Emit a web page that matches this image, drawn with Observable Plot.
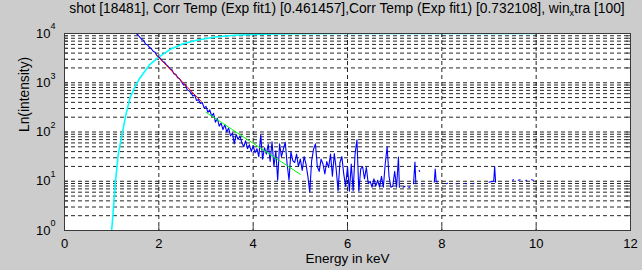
<!DOCTYPE html>
<html>
<head>
<meta charset="utf-8">
<script src="https://cdn.jsdelivr.net/npm/d3@7"></script>
<script src="https://cdn.jsdelivr.net/npm/@observablehq/plot@0.6"></script>
<style>
  body { margin: 0; background: #cccccc; width: 642px; height: 270px; overflow: hidden; }
  #title { height: 20px; box-sizing: border-box; padding: 1px 12px 0 64px; text-align: center;
           font: 13.8px "Liberation Sans", Arial, sans-serif; color: #000; white-space: nowrap; line-height: 16px; }
  #title sub { font-size: 9px; vertical-align: -3px; line-height: 0; }
</style>
</head>
<body>
<div id="title">shot [18481], Corr Temp (Exp fit1) [0.461457],Corr Temp (Exp fit1) [0.732108], win<sub>x</sub>tra [100]</div>
<div id="chart"></div>
<script>
// ---- data ----
const xTicks = [0, 2, 4, 6, 8, 10, 12];
const yDecades = [0, 1, 2, 3, 4];          // exponents of the y tick labels 10^n
const xLabel = "Energy in keV";
const yLabel = "Ln(intensity)";

// cyan curve: [energy keV, intensity]
const cyanCurve = [
  [1.00, 1], [1.04, 3], [1.08, 10], [1.14, 35], [1.21, 80], [1.30, 220], [1.39, 500],
  [1.50, 850], [1.60, 1250], [1.80, 2300], [2.00, 3300], [2.25, 4800], [2.50, 6100],
  [2.80, 7300], [3.20, 8500], [3.60, 9200], [4.00, 9550], [4.50, 9800], [5.00, 9900],
  [6.00, 9970], [7.00, 9990], [8.00, 10000], [10.00, 10000]
];

// blue measured spectrum: [energy keV, log10(intensity)], null = gap (no counts)
const blueSpectrum = [
  [1.52,4.00],[1.56,3.97],[1.60,3.92],[1.64,3.88],[1.68,3.86],[1.72,3.78],[1.76,3.77],[1.80,3.72],
  [1.84,3.69],[1.88,3.64],[1.92,3.62],[1.96,3.55],[2.00,3.52],[2.04,3.49],[2.08,3.43],[2.12,3.42],
  [2.16,3.36],[2.20,3.33],[2.24,3.28],[2.28,3.26],[2.32,3.18],[2.36,3.17],[2.40,3.10],[2.44,3.08],
  [2.48,3.02],[2.52,2.96],[2.56,2.97],[2.60,2.86],[2.64,2.84],[2.68,2.80],[2.72,2.73],[2.76,2.75],
  [2.80,2.64],[2.84,2.66],[2.88,2.58],[2.92,2.60],[2.96,2.49],[3.00,2.52],[3.04,2.40],[3.08,2.45],
  [3.12,2.32],[3.16,2.38],[3.20,2.20],[3.24,2.28],[3.28,2.12],[3.32,2.18],[3.36,2.05],[3.40,2.15],
  [3.44,2.00],[3.48,2.08],[3.52,1.92],[3.56,1.98],[3.60,1.76],[3.64,1.95],[3.68,1.85],[3.72,1.92],
  [3.76,1.78],[3.80,1.70],[3.84,1.82],[3.88,1.66],[3.92,1.74],[3.96,1.60],[4.00,1.72],[4.04,1.58],
  [4.08,1.66],[4.12,1.50],[4.16,1.94],[4.20,1.45],[4.24,1.68],[4.28,1.55],[4.32,1.75],[4.36,1.40],
  [4.40,1.80],[4.44,1.30],[4.48,1.62],[4.52,1.02],[4.56,1.76],[4.60,1.50],[4.64,1.65],[4.68,1.79],
  [4.72,1.35],[4.76,1.02],[4.80,1.60],[4.84,1.42],[4.88,1.38],[4.92,1.55],[4.96,1.30],[5.00,1.45],
  [5.04,1.22],[5.08,1.50],[5.12,1.35],[5.16,1.10],[5.20,0.78],[5.24,1.42],[5.28,1.65],[5.32,1.76],
  [5.36,1.30],[5.40,1.20],[5.44,1.45],[5.48,1.35],[5.52,1.15],[5.56,1.40],[5.60,1.28],[5.64,1.55],
  [5.68,1.10],[5.72,1.56],[5.76,1.25],[5.80,0.81],[5.84,1.38],[5.88,1.50],[5.92,1.15],[5.96,0.90],
  [6.00,1.30],[6.04,0.80],[6.08,1.35],[6.12,0.81],[6.16,1.55],[6.20,1.84],[6.24,0.80],[6.28,1.25],
  [6.32,1.30],[6.36,1.05],[6.40,1.28],[6.44,0.95],[6.48,1.00],[6.52,0.88],[6.56,1.05],[6.60,0.90],
  [6.64,1.02],[6.68,0.88],[6.72,1.10],[6.76,0.88],[6.80,1.35],[6.84,1.70],[6.88,1.10],[6.92,0.88],
  [6.96,0.90],[7.00,1.20],[7.04,0.88],[7.08,1.49],[7.10,0.88],[7.14,null],
  [7.18,0.88],[7.22,0.90],[7.26,null],[7.30,0.88],[7.32,0.88],[7.34,null],
  [7.40,0.95],[7.43,1.39],[7.45,0.95],[7.48,null],[7.52,1.22],[7.53,1.20],[7.55,null],
  [7.57,0.95],[7.59,0.95],[7.70,null],[7.84,0.98],[7.86,1.25],[7.88,1.00],[7.90,0.98],[7.95,null],
  [8.10,0.95],[8.12,0.96],[8.20,null],[8.30,0.95],[8.32,0.95],[8.40,null],[8.50,0.96],[8.52,0.95],
  [8.60,null],[8.66,0.95],[8.68,0.96],[8.80,null],[9.00,0.98],[9.04,0.99],[9.10,1.00],[9.12,1.30],
  [9.14,0.98],[9.30,null],[9.50,1.02],[9.52,1.03],[9.56,null],[9.62,1.02],[9.66,1.03],[9.70,null],
  [9.78,1.01],[9.80,1.02],[9.85,null],[9.90,1.03],[9.94,1.02]
];

// fitted lines: [energy keV, log10(intensity)]
const redFit = [[1.95, 3.56], [2.90, 2.62]];
const greenFit = [[3.00, 2.40], [5.00, 1.14]];

// ---- build ----
const toPts = arr => arr.map(([x, l]) => ({x, y: l == null ? NaN : Math.pow(10, l)}));
const cyan = cyanCurve.map(([x, y]) => ({x, y}));
const blue = toPts(blueSpectrum);
const red = toPts(redFit);
const green = toPts(greenFit);

const gridY = [];
for (const d of yDecades.slice(0, -1)) for (let k = 1; k <= 9; k++) gridY.push(k * Math.pow(10, d));
const gridX = xTicks.slice(1, -1);
const decadeVals = yDecades.map(n => Math.pow(10, n));

const font = "'Liberation Sans', Arial, sans-serif";
const frameColor = "#3a3a3a";

const chart = Plot.plot({
  width: 642,
  height: 250,
  marginTop: 13,
  marginBottom: 40,
  marginLeft: 64,
  marginRight: 12,
  style: {background: "transparent", fontFamily: font, fontSize: "13px", color: "#000", overflow: "visible"},
  x: {domain: [0, 12], ticks: xTicks, tickSize: 0, tickPadding: 8, label: null, tickFormat: d => String(d)},
  y: {type: "log", domain: [1, 10000], axis: null},
  marks: [
    Plot.frame({fill: "white", stroke: null}),
    Plot.ruleY(gridY, {stroke: "#000", strokeDasharray: "4,3", strokeWidth: 1, strokeOpacity: 0.85}),
    Plot.ruleX(gridX, {stroke: "#000", strokeDasharray: "4,3", strokeWidth: 1, strokeOpacity: 0.85}),
    // inward tick marks on the box
    Plot.ruleY(gridY, {x1: 0, x2: 0.085, stroke: frameColor}),
    Plot.ruleY(gridY, {x1: 11.915, x2: 12, stroke: frameColor}),
    Plot.ruleX(gridX, {y1: 1, y2: 1.2, stroke: frameColor}),
    Plot.ruleX(gridX, {y1: 8300, y2: 10000, stroke: frameColor}),
    Plot.line(cyan, {x: "x", y: "y", stroke: "#00ffff", strokeWidth: 1.6, clip: true}),
    Plot.line(blue, {x: "x", y: "y", stroke: "#0000ff", strokeWidth: 1.1, clip: true}),
    Plot.line(red, {x: "x", y: "y", stroke: "#ff0000", strokeWidth: 1, clip: true}),
    Plot.line(green, {x: "x", y: "y", stroke: "#00ff00", strokeWidth: 1, clip: true}),
    Plot.frame({stroke: frameColor, strokeWidth: 1}),
    Plot.text(decadeVals, {y: d => d, frameAnchor: "left", dx: -14, text: () => "10", textAnchor: "end", fontSize: 13}),
    Plot.text(yDecades, {y: d => Math.pow(10, d), frameAnchor: "left", dx: -9, dy: -7, text: d => String(d), textAnchor: "end", fontSize: 9}),
    Plot.text([yLabel], {frameAnchor: "left", dx: -40, rotate: -90, text: d => d, fontSize: 13.8}),
    Plot.text([xLabel], {frameAnchor: "bottom", dy: 32, text: d => d, fontSize: 13.5})
  ]
});
document.getElementById("chart").appendChild(chart);
</script>
</body>
</html>
